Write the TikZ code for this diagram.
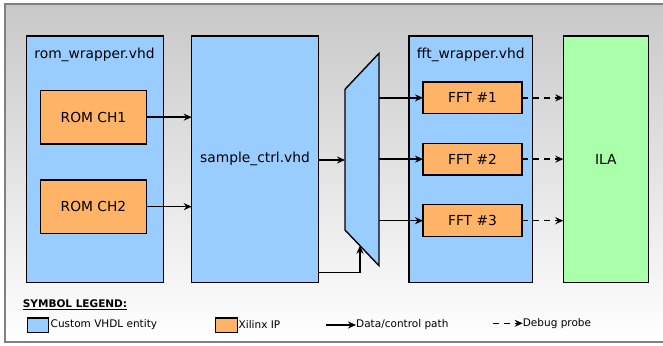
\documentclass[tikz,border=0pt]{standalone}
\usepackage{fontspec}
\setmainfont{DejaVu Sans}
\usetikzlibrary{arrows.meta}
\definecolor{entblue}{RGB}{153,204,255}
\definecolor{ipor}{RGB}{255,179,102}
\definecolor{ilagreen}{RGB}{170,255,170}
\definecolor{framegray}{RGB}{128,128,128}
\definecolor{bgtop}{RGB}{200,200,200}
\tikzset{
  blk/.style={draw=black, line width=1.4pt, inner sep=0pt, outer sep=0pt, anchor=north west},
  entity/.style={blk, fill=entblue},
  ipcore/.style={blk, fill=ipor, font=\fontsize{13.8}{16}\selectfont},
  ilabox/.style={blk, fill=ilagreen},
  title/.style={font=\fontsize{13.8}{16}\selectfont, inner sep=0pt},
  legtext/.style={font=\fontsize{10.5}{12}\selectfont, inner sep=0pt, anchor=west},
  arr/.style={line width=1.5pt, -{Stealth[length=8pt,width=7pt]}},
  dbg/.style={arr, dash pattern=on 6pt off 5pt},
}
\begin{document}
\begin{tikzpicture}[x=1pt,y=-1pt]
\useasboundingbox (0,0) rectangle (663,345);
% background panel
\begin{scope}
\clip (0,0) rectangle (663,345);
\shade[top color=bgtop, bottom color=white] (5,4) rectangle (668,342);
\draw[framegray, line width=1.6pt] (5,4) rectangle (668,342);
\end{scope}

% ROM wrapper
\node[entity, minimum width=137pt, minimum height=246.3pt] (rom) at (26.7,36) {};
\node[title] (romt) at (94.5,55) {rom\_wrapper.vhd};
\node[ipcore, minimum width=106.4pt, minimum height=53.7pt] (rom1) at (40.3,90.3) {ROM CH1};
\node[ipcore, minimum width=106.4pt, minimum height=53.3pt] (rom2) at (40.3,180) {ROM CH2};

% sample controller
\node[entity, minimum width=126.6pt, minimum height=246.3pt] (smp) at (191.7,36) {};
\node[title] (smpt) at (255,159) {sample\_ctrl.vhd};

% multiplexer
\coordinate (mtl) at (345,89.3);
\coordinate (mtr) at (379,53.3);
\coordinate (mbr) at (379,265.7);
\coordinate (mbl) at (345,230);
\filldraw[fill=entblue, draw=black, line width=1.4pt] (mtl) -- (mtr) -- (mbr) -- (mbl) -- cycle;
\coordinate (muxin) at (345,160);
\coordinate (muxsel) at (360,245.7);
\coordinate (selturn) at (360,272.7);

% FFT wrapper
\node[entity, minimum width=123.3pt, minimum height=246.3pt] (fftw) at (409,36) {};
\node[title] (fftt) at (470.7,55) {fft\_wrapper.vhd};
\node[ipcore, minimum width=99pt, minimum height=31.7pt] (fft1) at (423,82) {FFT \#1};
\node[ipcore, minimum width=99pt, minimum height=31.7pt] (fft2) at (423,143.3) {FFT \#2};
\node[ipcore, minimum width=99pt, minimum height=32pt] (fft3) at (423,204.7) {FFT \#3};

% ILA
\node[ilabox, minimum width=85pt, minimum height=246.3pt] (ila) at (563.3,36) {};
\node[title] (ilat) at (605.8,159) {ILA};

% data paths
\draw[arr] (rom1.east) -- (rom1.east -| smp.west);
\draw[arr] (rom2.east) -- (rom2.east -| smp.west);
\draw[arr] (smp.east |- muxin) -- (muxin);
\draw[arr] (smp.east |- selturn) -- (selturn) -- (muxsel);
\draw[arr] (fft1.west -| mtr) -- (fft1.west);
\draw[arr] (fft2.west -| mtr) -- (fft2.west);
\draw[arr] (fft3.west -| mtr) -- (fft3.west);

% debug probes
\draw[dbg] (fft1.east) -- (fft1.east -| ila.west);
\draw[dbg] (fft2.east) -- (fft2.east -| ila.west);
\draw[dbg] (fft3.east) -- (fft3.east -| ila.west);

% legend
\node[inner sep=0pt, anchor=west, font=\fontsize{10.5}{12}\selectfont\bfseries] (legt) at (22.7,305) {\underline{SYMBOL LEGEND:}};
\node[draw=black, line width=1.2pt, fill=entblue, inner sep=0pt, minimum width=21pt, minimum height=14.7pt, anchor=west] (lgblue) at (26.7,325.3) {};
\node[legtext] (lgbluet) at (50.5,325) {Custom VHDL entity};
\node[draw=black, line width=1.2pt, fill=ipor, inner sep=0pt, minimum width=21.7pt, minimum height=14.7pt, anchor=west] (lgor) at (215,325.3) {};
\node[legtext] (lgort) at (238.5,325) {Xilinx IP};
\coordinate (lga0) at (326,325);
\node[legtext] (lgat) at (356,325) {Data/control path};
\draw[arr] (lga0) -- (lgat.west);
\coordinate (lgd0) at (493.3,323.3);
\node[legtext] (lgdt) at (522.7,323.3) {Debug probe};
\draw[dbg] (lgd0) -- (lgdt.west);
\end{tikzpicture}
\end{document}
